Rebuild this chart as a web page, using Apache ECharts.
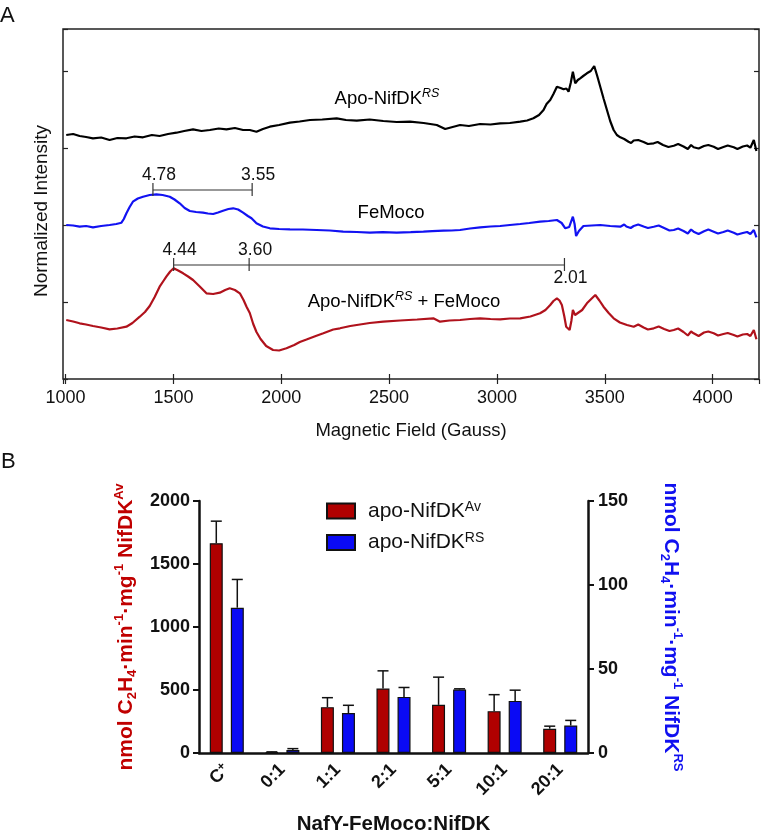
<!DOCTYPE html>
<html>
<head>
<meta charset="utf-8">
<script src="https://cdn.jsdelivr.net/npm/echarts@6/dist/echarts.min.js"></script>
<style>html,body{margin:0;padding:0;background:#fff;}#c{width:767px;height:836px;}</style>
</head>
<body>
<div id="c"></div>
<script>
// ---------- Panel A: EPR spectra, [magnetic field (G), offset normalized intensity] ----------
const apoNifDKRS = [[1003,244],[1035,245],[1065,243],[1095,242],[1127,240.7],[1165,241.5],[1204,239],[1240,241],[1282,240.7],[1320,242.5],[1359,241.7],[1400,244],[1436,243],[1475,245],[1514,246.3],[1550,248],[1591,249.7],[1630,248],[1669,249],[1710,250.5],[1746,249.7],[1785,251],[1823,249],[1854,249],[1885,247.3],[1915,250],[1947,252.3],[1990,254],[2040,256.3],[2085,257.5],[2133,259],[2190,259.5],[2257,260.7],[2300,259],[2350,258.3],[2410,259.5],[2473,258],[2535,257],[2597,257.3],[2660,256],[2721,254],[2760,250],[2829,254],[2870,253],[2922,255],[2970,254.5],[3015,255.7],[3060,256],[3108,257.3],[3140,258.5],[3169,260.7],[3195,264],[3216,269],[3230,275],[3247,279],[3262,285],[3278,292.3],[3295,291],[3309,289.7],[3322,290.5],[3332,287.3],[3342,296],[3352,307.3],[3363,295.7],[3375,299],[3386,300.7],[3400,303],[3417,305.7],[3435,308],[3451,313],[3465,303],[3479,292.3],[3495,280],[3510,269],[3525,258],[3541,249],[3556,244],[3572,241.7],[3590,240],[3610,237.3],[3622,236],[3634,238.5],[3655,239],[3680,237],[3700,235],[3727,235.7],[3745,237],[3770,234],[3795,232],[3820,233.3],[3840,235],[3865,232.5],[3885,230],[3900,234],[3912,231.7],[3935,230.5],[3960,233],[3980,234],[4005,232.3],[4025,230],[4050,232],[4070,233.5],[4098,231.7],[4115,230],[4140,232.5],[4160,233.5],[4175,231.3],[4191,239],[4203,228]];

const feMoco = [[1003,154],[1035,153.5],[1065,152.3],[1095,153],[1127,151.7],[1165,153],[1204,154],[1235,155],[1259,156.3],[1270,160],[1282,165.7],[1297,172],[1312,177.3],[1335,180.5],[1359,182.3],[1390,184],[1421,184.7],[1450,184],[1483,182.3],[1505,179.5],[1529,175.7],[1552,171],[1576,168],[1605,167],[1637,166.3],[1660,165.5],[1684,165],[1707,166.5],[1730,168.3],[1755,170],[1777,170.7],[1800,169.5],[1823,166.3],[1845,163],[1862,160.7],[1885,155.7],[1915,152.5],[1947,150.7],[1990,150],[2040,149.7],[2100,149.5],[2164,149],[2225,148.5],[2287,147.3],[2350,147],[2411,146.3],[2470,146.8],[2535,146.3],[2600,146.8],[2659,147.3],[2700,147.8],[2752,148.3],[2790,148.5],[2829,149],[2875,150.5],[2922,151.7],[2970,152.5],[3015,153],[3060,154],[3108,155],[3150,156],[3200,157.3],[3240,158],[3278,159],[3300,156],[3317,150.7],[3335,152],[3352,162.3],[3360,155],[3367,143],[3380,148],[3401,153],[3440,153.5],[3479,154],[3525,153],[3572,152.3],[3590,154.5],[3600,152.5],[3620,151],[3634,153],[3655,154.5],[3680,152.5],[3700,151],[3727,152.3],[3750,153.5],[3775,151],[3800,148.5],[3820,149],[3840,150.5],[3865,148],[3885,145.5],[3900,149.5],[3912,147.3],[3935,145],[3960,147.8],[3980,149.5],[4005,147.3],[4025,145.5],[4050,147],[4070,148.5],[4098,146.3],[4115,144.5],[4140,146],[4160,147],[4175,145],[4191,149],[4203,141.7]];

const apoPlusFeMoco = [[1003,59],[1035,57.5],[1065,55.7],[1095,54.5],[1127,53],[1165,51.5],[1204,49.7],[1240,50.5],[1282,52.3],[1310,56],[1344,62.3],[1368,67],[1390,73],[1413,82],[1436,92.3],[1452,97.5],[1467,102.3],[1485,107.5],[1501,110.7],[1522,108.5],[1545,105.7],[1568,102.5],[1591,99],[1622,92.5],[1653,85.7],[1684,85],[1715,86.3],[1740,89],[1761,90.7],[1785,89],[1808,85.7],[1825,79],[1839,72.3],[1854,66],[1870,55],[1885,47],[1904,40],[1930,33],[1962,29],[1990,28.5],[2024,30.7],[2060,34],[2086,37],[2117,39.5],[2160,43],[2195,45.7],[2241,49.5],[2272,50.7],[2320,53],[2365,54.5],[2410,56],[2473,57.3],[2551,58.5],[2630,59.5],[2705,60.7],[2736,57.3],[2780,58.5],[2829,59],[2875,60],[2922,60.7],[2970,60],[3015,59.7],[3060,60.5],[3108,60.7],[3155,62.5],[3200,65.7],[3225,69],[3247,74],[3262,78],[3278,80.7],[3290,78.5],[3301,74],[3312,63],[3321,52.3],[3337,49],[3345,58],[3352,69],[3362,64],[3371,62.3],[3395,69],[3417,75.7],[3437,80],[3456,84],[3475,78.5],[3494,72.3],[3518,66],[3541,60.7],[3570,56.5],[3603,54],[3634,52.3],[3655,54.5],[3680,51.5],[3700,49.5],[3727,50.7],[3750,52.5],[3775,50],[3800,48],[3820,49],[3840,50.5],[3865,47],[3885,43.5],[3900,47.5],[3912,45.7],[3935,43],[3960,46.5],[3980,47.5],[4005,45.7],[4025,43.5],[4050,45],[4070,46],[4098,44],[4115,42.5],[4140,44.5],[4160,45],[4175,43],[4191,49],[4203,39.7]];

// g-value brackets (label, field position in Gauss, bracket level in intensity units)
const femocoGLabels = ['4.78', '3.55'];
const femocoGFields = [1405, 1865];
const femocoBracketLevel = 189;
const complexGLabels = ['4.44', '3.60', '2.01'];
const complexGFields = [1501, 1851, 3313];
const complexBracketLevel = 114;

// ---------- Panel B: activity bars ----------
const categories = ['C+', '0:1', '1:1', '2:1', '5:1', '10:1', '20:1'];
const avActivity = [1665, 5, 364, 512, 382, 332, 193];
const avError = [175, 4, 75, 140, 220, 131, 20];
const rsActivity = [86.5, 1.8, 23.8, 33.4, 37.8, 31, 16.4];
const rsError = [16.8, 0.8, 4.6, 5.6, 0.4, 6.4, 3];

const FA = '"Liberation Sans", Arial, Helvetica, sans-serif';
const RED = '#b00000', BLUE = '#0a0af5';

function bracketSeries(labels, fields, level, belowIdx) {
  return {
    type: 'custom', xAxisIndex: 0, yAxisIndex: 0, clip: false, silent: true, z: 5,
    data: [[fields[0], level]],
    renderItem: function (params, api) {
      const pts = fields.map(f => api.coord([f, level]));
      const kids = [{
        type: 'line',
        shape: { x1: pts[0][0], y1: pts[0][1], x2: pts[pts.length - 1][0], y2: pts[pts.length - 1][1] },
        style: { stroke: '#333', lineWidth: 1.2 }
      }];
      pts.forEach((p, k) => {
        kids.push({ type: 'line', shape: { x1: p[0], y1: p[1] - 7, x2: p[0], y2: p[1] + 6 }, style: { stroke: '#333', lineWidth: 1.2 } });
        const below = k === belowIdx;
        kids.push({ type: 'text', style: { text: labels[k], x: p[0] + 6, y: below ? p[1] + 13 : p[1] - 15, align: 'center', verticalAlign: 'middle', font: '17.5px ' + FA, fill: '#111' } });
      });
      return { type: 'group', children: kids };
    }
  };
}

function errorSeries(means, errs, yIdx, offset) {
  return {
    type: 'custom', xAxisIndex: 2, yAxisIndex: yIdx, z: 6, silent: true,
    data: means.map((v, i) => [i, v, errs[i]]),
    renderItem: function (params, api) {
      const i = api.value(0), v = api.value(1), e = api.value(2);
      const b = api.coord([i, v]), t = api.coord([i, v + e]);
      const x = b[0] + offset;
      return {
        type: 'group', children: [
          { type: 'line', shape: { x1: x, y1: b[1], x2: x, y2: t[1] }, style: { stroke: '#111', lineWidth: 1.5 } },
          { type: 'line', shape: { x1: x - 5.5, y1: t[1], x2: x + 5.5, y2: t[1] }, style: { stroke: '#111', lineWidth: 1.5 } }
        ]
      };
    }
  };
}

const richA = {
  a: { fontFamily: FA, fontSize: 18.5, lineHeight: 24, color: '#111' },
  s: { fontFamily: FA, fontSize: 12.5, fontStyle: 'italic', lineHeight: 12, verticalAlign: 'top', color: '#111' }
};
function titleRich(color) {
  return {
    t: { fontFamily: FA, fontWeight: 'bold', fontSize: 21, lineHeight: 26, color: color },
    sub: { fontFamily: FA, fontWeight: 'bold', fontSize: 13, lineHeight: 13, verticalAlign: 'bottom', color: color },
    sup: { fontFamily: FA, fontWeight: 'bold', fontSize: 13, lineHeight: 13, verticalAlign: 'top', color: color }
  };
}
const unitName = '{t|nmol C}{sub|2}{t|H}{sub|4}{t|·min}{sup|-1}{t|·mg}{sup|-1}{t| NifDK}';
const plain = v => String(v);

const chart = echarts.init(document.getElementById('c'), null, { renderer: 'canvas' });
chart.setOption({
  backgroundColor: '#fff',
  animation: false,
  grid: [
    { left: 63, top: 29, width: 696, height: 350, show: true, borderColor: '#222', borderWidth: 1.5, backgroundColor: 'transparent' },
    { left: 199, top: 501, width: 389, height: 257 }
  ],
  xAxis: [
    {
      type: 'value', gridIndex: 0, min: 988, max: 4215, position: 'bottom',
      axisLine: { show: false }, splitLine: { show: false },
      axisTick: { inside: true, length: 5, lineStyle: { color: '#222', width: 1.2 } },
      axisLabel: { fontFamily: FA, fontSize: 18, color: '#111', margin: 10, showMinLabel: false, showMaxLabel: false, formatter: plain },
      name: 'Magnetic Field (Gauss)', nameLocation: 'middle', nameGap: 42,
      nameTextStyle: { fontFamily: FA, fontSize: 18.5, color: '#111' }
    },
    {
      type: 'value', gridIndex: 0, min: 988, max: 4215, position: 'top',
      axisLine: { show: false }, splitLine: { show: false }, axisLabel: { show: false },
      axisTick: { inside: true, length: 5, lineStyle: { color: '#222', width: 1.2 } }
    },
    {
      type: 'category', gridIndex: 1, data: categories,
      axisLine: { lineStyle: { color: '#111', width: 2.5 } },
      axisTick: { alignWithLabel: true, length: 6, lineStyle: { color: '#111', width: 2 } },
      axisLabel: {
        rotate: 45, fontFamily: FA, fontWeight: 'bold', fontSize: 18, color: '#111', margin: 14,
        formatter: v => v === 'C+' ? '{b|C}{p|+}' : v,
        rich: {
          b: { fontFamily: FA, fontWeight: 'bold', fontSize: 18, color: '#111', lineHeight: 20 },
          p: { fontFamily: FA, fontWeight: 'bold', fontSize: 12, color: '#111', lineHeight: 12, verticalAlign: 'top' }
        }
      },
      name: 'NafY-FeMoco:NifDK', nameLocation: 'middle', nameGap: 61,
      nameTextStyle: { fontFamily: FA, fontWeight: 'bold', fontSize: 20.5, color: '#111' }
    }
  ],
  yAxis: [
    {
      type: 'value', gridIndex: 0, min: 0, max: 350, interval: 77, position: 'left',
      axisLine: { show: false }, splitLine: { show: false }, axisLabel: { show: false },
      axisTick: { inside: true, length: 5, lineStyle: { color: '#222', width: 1.2 } }
    },
    {
      type: 'value', gridIndex: 0, min: 0, max: 350, interval: 77, position: 'right',
      axisLine: { show: false }, splitLine: { show: false }, axisLabel: { show: false },
      axisTick: { inside: true, length: 5, lineStyle: { color: '#222', width: 1.2 } }
    },
    {
      type: 'value', gridIndex: 1, min: 0, max: 2000, interval: 500, position: 'left',
      axisLine: { show: true, lineStyle: { color: '#111', width: 2.5 } },
      axisTick: { show: true, length: 6, lineStyle: { color: '#111', width: 2 } },
      splitLine: { show: false },
      axisLabel: { fontFamily: FA, fontWeight: 'bold', fontSize: 18, color: '#111', margin: 9, formatter: plain },
      name: unitName + '{sup|Av}', nameLocation: 'middle', nameGap: 59,
      nameTextStyle: { rich: titleRich('#c00000') }
    },
    {
      type: 'value', gridIndex: 1, min: 0, max: 150, interval: 50, position: 'right',
      axisLine: { show: true, lineStyle: { color: '#111', width: 2.5 } },
      axisTick: { show: true, length: 6, lineStyle: { color: '#111', width: 2 } },
      splitLine: { show: false },
      axisLabel: { fontFamily: FA, fontWeight: 'bold', fontSize: 18, color: '#111', margin: 10, formatter: plain },
      name: unitName + '{sup|RS}', nameLocation: 'middle', nameGap: 70, nameRotate: -90,
      nameTextStyle: { rich: titleRich('#1010f0') }
    }
  ],
  legend: {
    left: 321, top: 495, orient: 'vertical', icon: 'rect', itemWidth: 28, itemHeight: 15, itemGap: 10,
    data: ['apo-NifDKAv', 'apo-NifDKRS'],
    formatter: n => '{n|apo-NifDK}{s|' + n.slice(9) + '}',
    textStyle: {
      padding: [0, 0, 0, 8],
      rich: {
        n: { fontFamily: FA, fontSize: 21, lineHeight: 22, color: '#111' },
        s: { fontFamily: FA, fontSize: 14, lineHeight: 12, verticalAlign: 'top', color: '#111' }
      }
    }
  },
  graphic: [
    { type: 'text', x: 0, y: 16, style: { text: 'A', font: '22px ' + FA, fill: '#111', verticalAlign: 'middle' } },
    { type: 'text', x: 1, y: 462, style: { text: 'B', font: '22px ' + FA, fill: '#111', verticalAlign: 'middle' } },
    { type: 'text', x: 42, y: 211, rotation: Math.PI / 2, style: { text: 'Normalized Intensity', font: '19px ' + FA, fill: '#111', align: 'center', verticalAlign: 'middle' } },
    { type: 'text', x: 387, y: 99, style: { text: '{a|Apo-NifDK}{s|RS}', rich: richA, align: 'center', verticalAlign: 'middle' } },
    { type: 'text', x: 391, y: 213, style: { text: '{a|FeMoco}', rich: richA, align: 'center', verticalAlign: 'middle' } },
    { type: 'text', x: 404, y: 302, style: { text: '{a|Apo-NifDK}{s|RS}{a| + FeMoco}', rich: richA, align: 'center', verticalAlign: 'middle' } }
  ],
  series: [
    { type: 'line', name: 'Apo-NifDK RS', xAxisIndex: 0, yAxisIndex: 0, data: apoNifDKRS, showSymbol: false, lineStyle: { color: '#000', width: 2.2 }, z: 3 },
    { type: 'line', name: 'FeMoco', xAxisIndex: 0, yAxisIndex: 0, data: feMoco, showSymbol: false, lineStyle: { color: '#1212f2', width: 2.2 }, z: 3 },
    { type: 'line', name: 'Apo-NifDK RS + FeMoco', xAxisIndex: 0, yAxisIndex: 0, data: apoPlusFeMoco, showSymbol: false, lineStyle: { color: '#b0121c', width: 2.2 }, z: 3 },
    bracketSeries(femocoGLabels, femocoGFields, femocoBracketLevel, -1),
    bracketSeries(complexGLabels, complexGFields, complexBracketLevel, 2),
    {
      type: 'bar', name: 'apo-NifDKAv', xAxisIndex: 2, yAxisIndex: 2, data: avActivity,
      barWidth: 13, barGap: '62%', itemStyle: { color: RED, borderColor: '#111', borderWidth: 1.2 }
    },
    {
      type: 'bar', name: 'apo-NifDKRS', xAxisIndex: 2, yAxisIndex: 3, data: rsActivity,
      barWidth: 13, barGap: '62%', itemStyle: { color: BLUE, borderColor: '#111', borderWidth: 1.2 }
    },
    errorSeries(avActivity, avError, 2, -10.5),
    errorSeries(rsActivity, rsError, 3, 10.5)
  ]
});
</script>
</body>
</html>
